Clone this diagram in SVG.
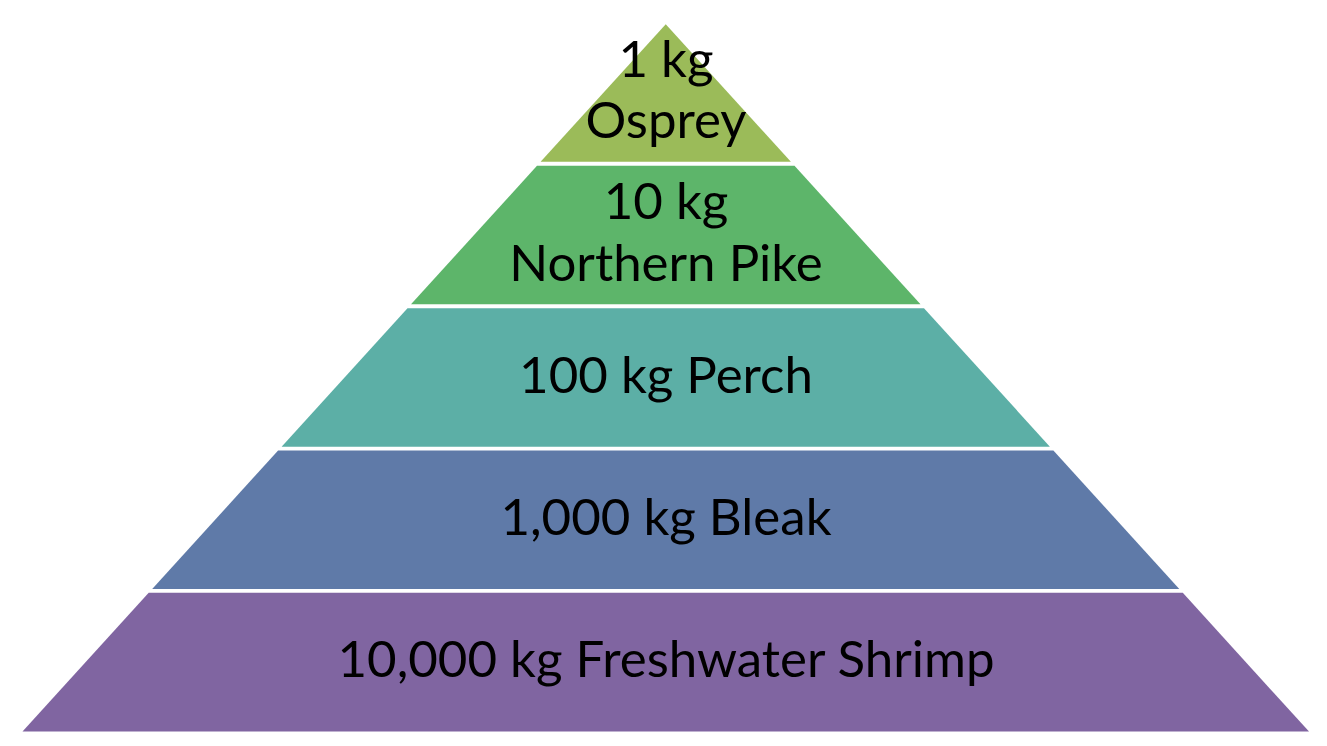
<svg xmlns="http://www.w3.org/2000/svg" width="1327" height="746" viewBox="0 0 1327 746">
<style>
.lbl{font-family:Lato,"Open Sans","Noto Sans",sans-serif;font-size:51px;fill:#000;text-anchor:middle}
</style>
<rect width="1327" height="746" fill="#fff"/>
<g id="layer1-osprey">
<polygon points="665.75,24.2 790.9,161.8 540.6,161.8" fill="#9BBB59"/>
<text class="lbl" x="666" y="77">1 kg</text>
<text class="lbl" x="666" y="138">Osprey</text>
</g>
<g id="layer2-pike">
<polygon points="537,165.8 794.5,165.8 920.5,304.3 411,304.3" fill="#5DB56A"/>
<text class="lbl" x="666" y="219">10 kg</text>
<text class="lbl" x="666" y="281">Northern Pike</text>
</g>
<g id="layer3-perch">
<polygon points="407.5,308.2 924,308.2 1049.9,446.7 281.6,446.7" fill="#5CAFA6"/>
<text class="lbl" x="666" y="393">100 kg Perch</text>
</g>
<g id="layer4-bleak">
<polygon points="278.1,450.5 1053.4,450.5 1179.3,589 152.2,589" fill="#5F7AA8"/>
<text class="lbl" x="666" y="535">1,000 kg Bleak</text>
</g>
<g id="layer5-shrimp">
<polygon points="148.7,592.8 1182.8,592.8 1309,731.6 22.5,731.6" fill="#8065A1"/>
<text class="lbl" x="666" y="677">10,000 kg Freshwater Shrimp</text>
</g>
<g id="connectors"></g>
</svg>
